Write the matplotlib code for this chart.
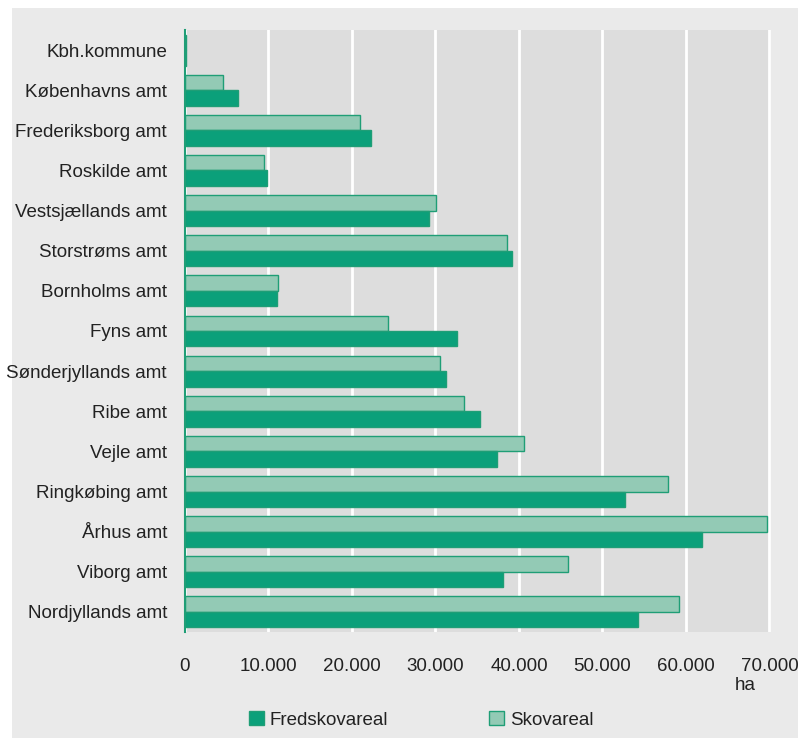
import matplotlib.pyplot as plt
from matplotlib.patches import Rectangle, Patch
from matplotlib.ticker import FuncFormatter

plt.rcParams['font.family'] = ['Liberation Sans', 'DejaVu Sans']

# Data (ha)
amter = ['Kbh.kommune', 'Københavns amt', 'Frederiksborg amt', 'Roskilde amt',
         'Vestsjællands amt', 'Storstrøms amt', 'Bornholms amt', 'Fyns amt',
         'Sønderjyllands amt', 'Ribe amt', 'Vejle amt', 'Ringkøbing amt',
         'Århus amt', 'Viborg amt', 'Nordjyllands amt']
fredskov = [150, 6300, 22270, 9800, 29260, 39200, 10980, 32540,
            31260, 35290, 37370, 52700, 61880, 38050, 54290]
skov = [150, 4600, 20900, 9500, 30050, 38560, 11100, 24350,
        30540, 33450, 40560, 57800, 69700, 45900, 59200]
xticks = [0, 10000, 20000, 30000, 40000, 50000, 60000, 70000]

dark = '#0ba07a'
light = '#93cab5'
edge = '#1f9e76'
txt = '#222222'

fig = plt.figure(figsize=(7.98, 7.38), dpi=100, facecolor='white')
# grey panel behind everything (white strip top and left as in the original)
fig.patches.append(Rectangle((12 / 798, 0), 1, 1 - 8 / 738, transform=fig.transFigure,
                             facecolor='#eaeaea', edgecolor='none', zorder=-10))
ax = fig.add_axes([185 / 798, 1 - 632 / 738, (771 - 185) / 798, (632 - 30) / 738])
ax.set_facecolor('#dddddd')

pos = list(range(len(amter)))
h = 0.385
ax.barh([p - h / 2 for p in pos], skov, height=h, color=light, edgecolor=edge, linewidth=1.0, zorder=3)
ax.barh([p + h / 2 for p in pos], fredskov, height=h, color=dark, edgecolor=edge, linewidth=1.0, zorder=3)

ax.set_ylim(len(amter) - 0.5, -0.5)
ax.set_xlim(0, 70180)
ax.set_yticks(pos)
ax.set_yticklabels(amter, fontsize=13.5, color=txt)
ax.set_xticks(xticks)
ax.xaxis.set_major_formatter(FuncFormatter(lambda v, _: f'{int(v):,}'.replace(',', '.')))
ax.tick_params(axis='x', length=0, pad=19, labelsize=13.5, labelcolor=txt)
ax.tick_params(axis='y', length=0, pad=13)
ax.grid(axis='x', color='white', linewidth=2.0, zorder=1)
ax.set_axisbelow(True)
for s in ['top', 'right', 'bottom']:
    ax.spines[s].set_visible(False)
ax.spines['left'].set_color(edge)
ax.spines['left'].set_linewidth(1.5)
ax.spines['left'].set_zorder(4)

fig.text(745 / 798, 1 - 686 / 738, 'ha', fontsize=13.5, color=txt, ha='center', va='center')

handles = [Patch(facecolor=dark, edgecolor=edge, label='Fredskovareal'),
           Patch(facecolor=light, edgecolor=edge, label='Skovareal')]
fig.legend(handles=handles, ncol=2, loc='center', bbox_to_anchor=(0.528, 1 - 720 / 738),
           frameon=False, fontsize=13.5, handlelength=0.78, handleheight=0.78,
           handletextpad=0.33, columnspacing=5.4, labelcolor=txt)

fig.savefig('out.png', dpi=100, facecolor=fig.get_facecolor())
